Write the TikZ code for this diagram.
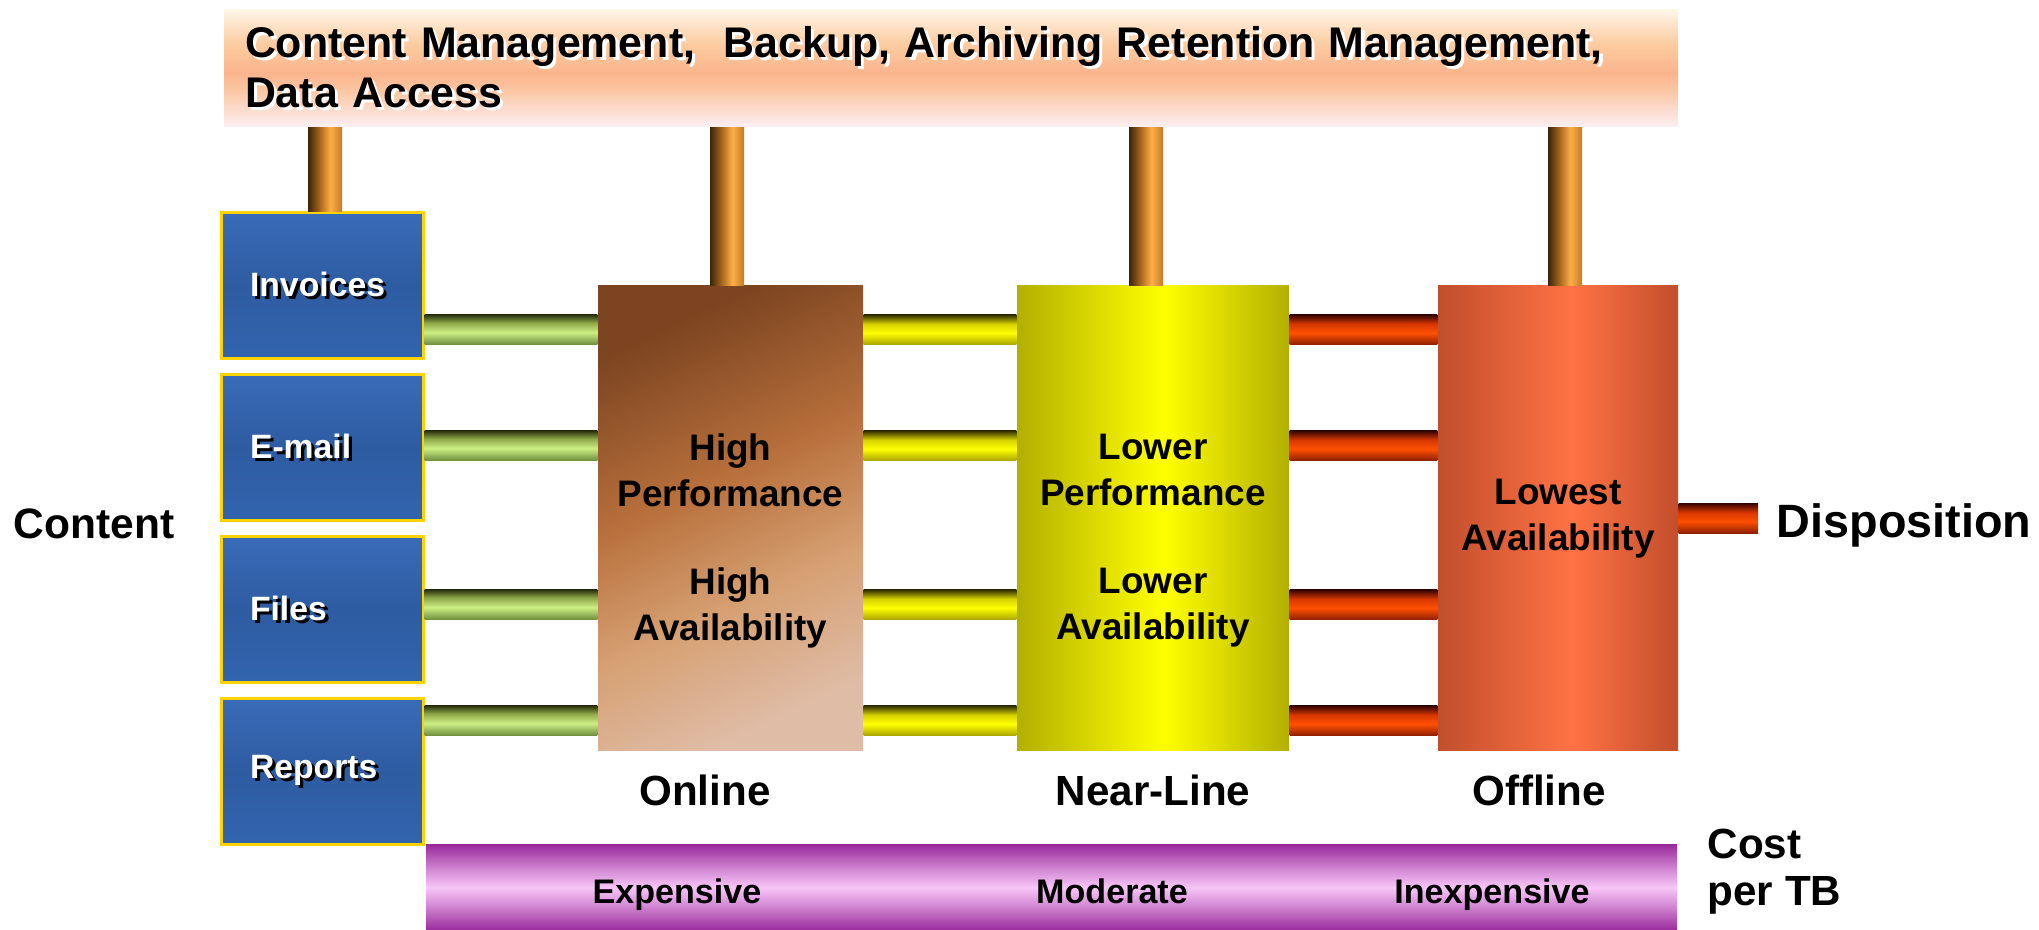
\documentclass[tikz,border=0pt]{standalone}
\usepackage{fontspec}
\setmainfont{Liberation Sans}
\usetikzlibrary{positioning,calc}

\definecolor{gold}{HTML}{FFD200}
\definecolor{ink}{HTML}{000000}
% tube colours
\definecolor{gtubedark}{HTML}{2C3510}
\definecolor{gtubemid}{HTML}{8EA848}
\definecolor{gtubehi}{HTML}{CDEF85}
\definecolor{gtubelow}{HTML}{6A8A3A}
\definecolor{ytubedark}{HTML}{363300}
\definecolor{ytubemid}{HTML}{D8D200}
\definecolor{ytubehi}{HTML}{FFFF00}
\definecolor{ytubelow}{HTML}{A8A200}
\definecolor{rtubedark}{HTML}{380500}
\definecolor{rtubemid}{HTML}{D83800}
\definecolor{rtubehi}{HTML}{FF5000}
\definecolor{rtubelow}{HTML}{8A1E00}
\definecolor{cudark}{HTML}{3C2408}
\definecolor{cumid}{HTML}{A8661E}
\definecolor{cuhi}{HTML}{FFAE45}
\definecolor{curim}{HTML}{C47A28}
% box colours
\definecolor{bnlow}{HTML}{FDEFF3}
\definecolor{bnmid}{HTML}{FBC8A6}
\definecolor{bnpeak}{HTML}{FBB48C}
\definecolor{bnup}{HTML}{FCCB9F}
\definecolor{bntop}{HTML}{FEF5E6}
\definecolor{bluelow}{HTML}{3264AE}
\definecolor{bluemid}{HTML}{2E5CA2}
\definecolor{bluetop}{HTML}{3A6BB8}
\definecolor{onlow}{HTML}{DFBCA6}
\definecolor{onmid}{HTML}{D6A072}
\definecolor{oncore}{HTML}{B8703C}
\definecolor{ontop}{HTML}{7C4420}
\definecolor{nearside}{HTML}{B3AF00}
\definecolor{nearhi}{HTML}{FFFF00}
\definecolor{offside}{HTML}{C24E2C}
\definecolor{offhi}{HTML}{FF7244}
\definecolor{purpdark}{HTML}{9A2C9C}
\definecolor{purpmid}{HTML}{D58CD6}
\definecolor{purphi}{HTML}{F7C6F7}

% shadings (the path is mapped onto 25bp..75bp)
\pgfdeclareverticalshading{greentube}{100bp}{color(0bp)=(gtubelow); color(25bp)=(gtubelow);
  color(46bp)=(gtubehi); color(62bp)=(gtubemid); color(75bp)=(gtubedark); color(100bp)=(gtubedark)}
\pgfdeclareverticalshading{yellowtube}{100bp}{color(0bp)=(ytubelow); color(25bp)=(ytubelow);
  color(45bp)=(ytubehi); color(60bp)=(ytubemid); color(75bp)=(ytubedark); color(100bp)=(ytubedark)}
\pgfdeclareverticalshading{redtube}{100bp}{color(0bp)=(rtubelow); color(25bp)=(rtubelow);
  color(45bp)=(rtubehi); color(60bp)=(rtubemid); color(75bp)=(rtubedark); color(100bp)=(rtubedark)}
\pgfdeclarehorizontalshading{copper}{100bp}{color(0bp)=(cudark); color(25bp)=(cudark);
  color(42bp)=(cumid); color(58bp)=(cuhi); color(75bp)=(curim); color(100bp)=(curim)}
\pgfdeclareverticalshading{bannerface}{100bp}{color(0bp)=(bnlow); color(25bp)=(bnlow);
  color(40bp)=(bnmid); color(48bp)=(bnpeak); color(60bp)=(bnup); color(75bp)=(bntop); color(100bp)=(bntop)}
\pgfdeclareverticalshading{blueface}{100bp}{color(0bp)=(bluelow); color(25bp)=(bluelow);
  color(50bp)=(bluemid); color(75bp)=(bluetop); color(100bp)=(bluetop)}
\pgfdeclareverticalshading{onlineface}{100bp}{color(0bp)=(onlow); color(25bp)=(onlow);
  color(40bp)=(onmid); color(55bp)=(oncore); color(75bp)=(ontop); color(100bp)=(ontop)}
\pgfdeclarehorizontalshading{nearface}{100bp}{color(0bp)=(nearside); color(25bp)=(nearside);
  color(52bp)=(nearhi); color(75bp)=(nearside); color(100bp)=(nearside)}
\pgfdeclarehorizontalshading{offface}{100bp}{color(0bp)=(offside); color(25bp)=(offside);
  color(53bp)=(offhi); color(75bp)=(offside); color(100bp)=(offside)}
\pgfdeclareverticalshading{costface}{100bp}{color(0bp)=(purpdark); color(25bp)=(purpdark);
  color(40bp)=(purpmid); color(50bp)=(purphi); color(60bp)=(purpmid); color(75bp)=(purpdark); color(100bp)=(purpdark)}

\newcommand{\shadowtext}[2]{\leavevmode\rlap{\kern0.9pt\raisebox{-0.9pt}{\textcolor{#1}{#2}}}#2}

\tikzset{
  srcbox/.style={draw=gold, line width=0.3mm, shading=blueface, minimum height=14.6mm,
                 text width=14.4mm, inner xsep=2.9mm, inner ysep=0pt, align=left, text=white,
                 font=\fontsize{9.6}{11}\selectfont\bfseries},
  tier/.style={minimum height=46.5mm, inner sep=0pt},
  tierinfo/.style={align=center, inner sep=0pt, text=ink,
                   font=\fontsize{10.5}{13.1}\selectfont\bfseries},
  tiername/.style={inner sep=0pt, font=\fontsize{12}{14}\selectfont\bfseries},
  costlbl/.style={anchor=base, inner sep=0pt, font=\fontsize{9.7}{11}\selectfont\bfseries},
  biglbl/.style={inner sep=0pt, font=\fontsize{12.1}{14}\selectfont\bfseries},
}

\begin{document}
\begin{tikzpicture}[x=0.1mm, y=0.1mm]
  \useasboundingbox (0,0) rectangle (2039,930);

  % management banner
  \node[shading=bannerface, minimum height=11.7mm, text width=141.2mm, inner xsep=2.1mm,
        inner ysep=0pt, align=left, font=\fontsize{12.2}{14.2}\selectfont\bfseries] (banner) at (951,861.5)
    {\shadowtext{white}{Content Management,\ \ Backup, Archiving Retention Management,}\\
     \shadowtext{white}{Data Access}};

  % content sources
  \node[srcbox] (inv) at (322,644) {\shadowtext{black}{Invoices}};
  \node[srcbox, below=1.3mm of inv] (mail) {\shadowtext{black}{E-mail}};
  \node[srcbox, below=1.3mm of mail] (files) {\shadowtext{black}{Files}};
  \node[srcbox, below=1.3mm of files] (rep) {\shadowtext{black}{Reports}};

  \node[biglbl, anchor=west] (content) at (13,406) {Content};

  % storage tiers
  \node[tier, shading=onlineface, shading angle=25, minimum width=26.5mm] (online) at (730.5,411.5) {};
  \node[tier, shading=nearface, minimum width=27.2mm] (near) at (1153,411.5) {};
  \node[tier, shading=offface, minimum width=24mm] (off) at (1558,411.5) {};

  \node[tierinfo] (onlineinfo) at ($(online.center)+(0,-22.5)$) {High\\Performance\\[12pt]High\\Availability};
  \node[tierinfo] (nearinfo) at ($(near.center)+(0,-22.5)$) {Lower\\Performance\\[12pt]Lower\\Availability};
  \node[tierinfo] (offinfo) at (off.center) {Lowest\\Availability};

  \node[tiername, below=2.25mm of online, xshift=-2.55mm] (onlinelbl) {Online};
  \node[tiername, below=2.25mm of near] (nearlbl) {Near-Line};
  \node[tiername, below=2.25mm of off, xshift=-1.9mm] (offlbl) {Offline};

  % pipes
  \coordinate (row1) at (0,600);
  \coordinate (row2) at (0,484);
  \coordinate (row3) at (0,325);
  \coordinate (row4) at (0,209);
  \foreach \r in {1,...,4} {
    \path[shading=greentube] ($(inv.east |- row\r)+(0,15)$) rectangle ($(online.west |- row\r)+(0,-15)$);
    \path[shading=yellowtube] ($(online.east |- row\r)+(0,15)$) rectangle ($(near.west |- row\r)+(0,-15)$);
    \path[shading=redtube] ($(near.east |- row\r)+(0,15)$) rectangle ($(off.west |- row\r)+(0,-15)$);
  }
  \foreach \n/\dx in {inv/3, online/-3.5, near/-7, off/7}
    \path[shading=copper] ($(banner.south -| \n.north)+(\dx-17,0)$) rectangle ($(\n.north)+(\dx+17,0)$);

  \node[anchor=base west, inner xsep=1.8mm, inner ysep=0pt, font=\fontsize{13.3}{15}\selectfont\bfseries]
    (disp) at (1758,392) {Disposition};
  \path[shading=redtube] ($(off.east)+(0,15)$) rectangle ($(off.east -| disp.west)+(0,-15)$);

  % cost scale
  \node[shading=costface, minimum width=125.1mm, minimum height=8.5mm, inner sep=0pt] (cost) at (1051.5,42.5) {};
  \node[costlbl] (expensive) at (677,26) {Expensive};
  \node[costlbl] (moderate) at (1112,26) {Moderate};
  \node[costlbl] (inexpensive) at (1492,26) {Inexpensive};
  \node[biglbl, anchor=west, align=left, font=\fontsize{12}{13.4}\selectfont\bfseries] (costper) at (1707,58.5)
    {Cost\\per TB};
\end{tikzpicture}
\end{document}
